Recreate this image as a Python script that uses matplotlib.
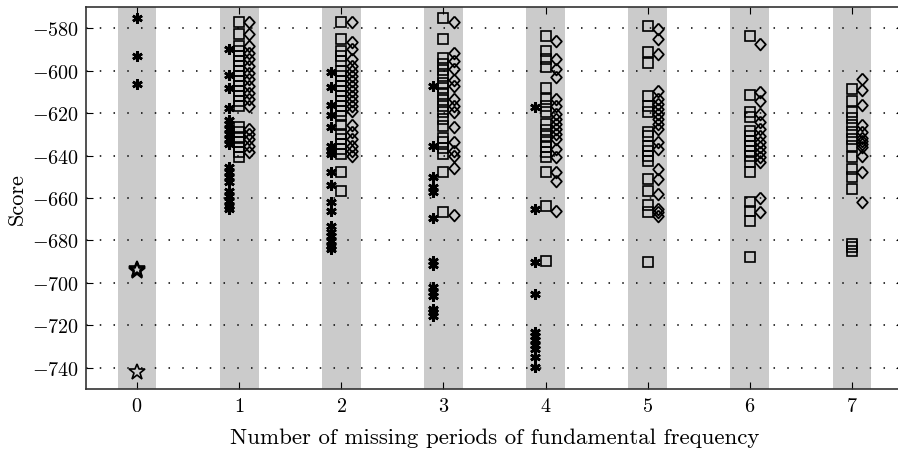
import numpy as np
import matplotlib
matplotlib.use('Agg')
import matplotlib.pyplot as plt

plt.rcParams['font.family'] = 'serif'
plt.rcParams['font.serif'] = ['cmr10', 'DejaVu Serif']
plt.rcParams['mathtext.fontset'] = 'cm'
plt.rcParams['axes.formatter.use_mathtext'] = True

groups = [0, 1, 2, 3, 4, 5, 6, 7]

# asterisk scores per group
ast = [
    [-575, -593, -606.4],
    [-589.9, -602.1, -608.4, -617.8, -623.1, -625.2, -627.5, -629.9, -632.2, -634.6,
     -645.6, -647.9, -650.3, -652.6, -656.5, -658.9, -661.3, -663.6, -665.2],
    [-600.5, -607.5, -616.2, -620.9, -626.4, -635.4, -637.7, -639.3, -647.6, -653.9,
     -662, -666, -673, -676.2, -678, -680.1, -682.4, -684],
    [-607.1, -635.4, -650.3, -655, -657.3, -669.6, -689.5, -691.8, -702, -704.4,
     -706, -712.2, -713.8, -715.4],
    [-617.3, -665.2, -690, -705.2, -723.2, -724.8, -727.1, -729.5, -731.1, -735, -739.5],
    [], [], [],
]

# square scores per group
sq = [
    [],
    [-577, -582.8, -588.3, -590.7, -593, -595.4, -597.7, -600.1, -602.4, -604.8, -607.1,
     -609.5, -611.8, -614.2, -616.5, -626.7, -629.1, -631.5, -633.8, -636.2, -638.5, -640.9],
    [-577.3, -584.9, -590.7, -593, -595.4, -600.1, -602.4, -604.8, -607.1, -609.5, -611.8,
     -614.2, -616.5, -618.9, -621.3, -625.6, -629.9, -632.2, -634.6, -636.9, -639.3,
     -647.9, -656.5],
    [-575, -584.9, -593.8, -596.9, -599.8, -602.7, -605.6, -608.4, -611.1, -613.7, -616.5,
     -619.7, -622.8, -626, -631.5, -633.8, -636.6, -639.3, -647.9, -666.7],
    [-583.6, -590.7, -594.3, -598.5, -608.4, -613.4, -616.5, -619.4, -625.2, -627.8,
     -630.7, -633.5, -636.2, -638.5, -640.9, -647.6, -663.6, -689.5],
    [-578.9, -591.1, -596.6, -611.8, -616.5, -619.7, -629.1, -630.7, -635.4, -637.7,
     -640.1, -642.4, -651.1, -656.5, -663.3, -666.7, -690.3],
    [-583.6, -611.5, -619.4, -621.6, -628.3, -630.7, -633, -635.4, -637.7, -640.1,
     -642.9, -647.9, -662, -666, -670.7, -687.9],
    [-608.7, -614.2, -619.7, -622.5, -625.6, -629.1, -632.2, -635.4, -640.9, -646.4,
     -650.3, -655.8, -681.6, -683.2, -684.8],
]

# diamond scores per group
dia = [
    [],
    [-577, -582.8, -588.3, -591.5, -594.6, -597.7, -600.9, -604, -607.1, -610.3, -613.4,
     -616.5, -627.5, -629.9, -632.2, -635.4, -638.5],
    [-577.3, -586.7, -589.9, -594.6, -597.7, -600.1, -602.4, -604.8, -607.1, -609.5,
     -611.8, -614.2, -616.5, -618.9, -625.6, -629.1, -632.2, -635.4, -637.7, -640.1],
    [-577, -591.9, -595.4, -599.3, -604.5, -607.1, -613.4, -616.5, -619.7, -626.7,
     -633.8, -637.7, -640.1, -646, -668],
    [-586, -594.6, -599.3, -603.2, -613.4, -616.5, -620.5, -622.8, -625.2, -627.5,
     -629.9, -632.2, -636.9, -640.9, -647.9, -651.8, -666],
    [-580.5, -584.9, -592.2, -609.5, -613.4, -615.8, -618.1, -620.5, -622.8, -625.2,
     -627.5, -633.5, -636.9, -646.4, -651.1, -658.1, -665.2, -666.7, -668.3],
    [-587.5, -610, -614.2, -620.5, -624.4, -627.5, -630.7, -633.8, -636.2, -638.5,
     -640.9, -643.2, -660.2, -666.4],
    [-604, -609, -616.2, -625.6, -629.1, -631.5, -633.1, -634.6, -636.2, -640.1,
     -647.9, -662],
]

# pentagram scores (group 0 only)
star0 = [-693.5, -694, -694.5, -742]

yticks = [-580, -600, -620, -640, -660, -680, -700, -720, -740]

diamond = [(0, 1), (0.9, 0), (0, -1), (-0.9, 0), (0, 1)]

fig = plt.figure(figsize=(8.98, 4.56), dpi=100)
ax = fig.add_axes([86 / 898, 66 / 456, 817 / 898, 382 / 456])

for k in groups:
    ax.axvspan(k - 0.19, k + 0.19, color='#cbcbcb', lw=0, zorder=0)
    xa = k - 0.1 if k > 0 else k
    ax.plot([xa] * len(ast[k]), ast[k], ls='none', marker=(6, 2, 0), ms=7.5,
            mew=1.9, color='k', zorder=3)
    ax.plot([k] * len(sq[k]), sq[k], ls='none', marker='s', ms=6.5,
            mfc='none', mec='k', mew=1.2, zorder=3)
    ax.plot([k + 0.1] * len(dia[k]), dia[k], ls='none', marker=diamond, ms=8.5,
            mfc='none', mec='k', mew=1.3, zorder=3)

ax.plot([0] * len(star0), star0, ls='none', marker='*', ms=12,
        mfc='none', mec='k', mew=1.2, zorder=3)

ax.set_xlim(-0.5, 7.5)
ax.set_ylim(-750, -570)
ax.set_xticks(groups)
ax.set_yticks(yticks)
ax.set_axisbelow(True)
ax.yaxis.grid(True, color='k', ls=(0, (1, 8)), lw=1.1, zorder=0.5)
ax.tick_params(direction='in', top=True, right=True, labelsize=14.5, length=5)
ax.tick_params(axis='y', pad=5)
ax.tick_params(axis='x', pad=6)
for s in ax.spines.values():
    s.set_linewidth(1.2)
    s.set_color('#333333')

ax.set_xlabel('Number of missing periods of fundamental frequency', fontsize=16.5, labelpad=9)
ax.set_ylabel('Score', fontsize=16, labelpad=4)

fig.savefig('out.png', dpi=100)
